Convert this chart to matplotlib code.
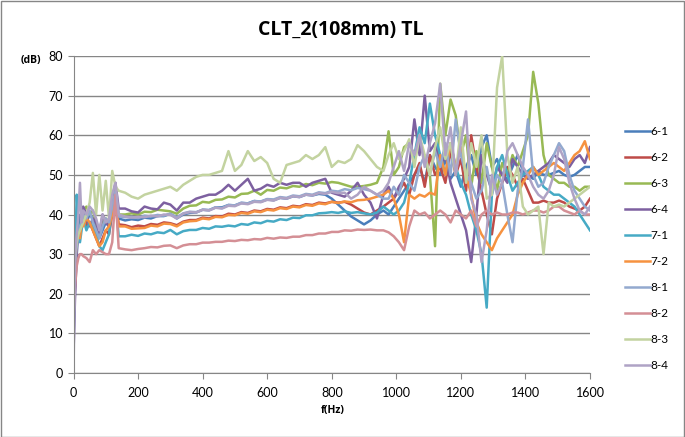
import matplotlib
matplotlib.use('Agg')
import matplotlib.pyplot as plt
from matplotlib.patches import Rectangle

plt.rcParams['font.family'] = ['Lato', 'DejaVu Sans']

freq = [0, 5, 10, 15, 20, 25, 30, 40, 50, 60, 70, 80, 90, 100, 110, 120, 130, 140,
        160, 180, 200, 220, 240, 260, 280, 300, 320, 340,
        360, 380, 400, 420, 440, 460, 480, 500, 520, 540,
        560, 580, 600, 620, 640, 660, 680, 700, 720, 740,
        760, 780, 800, 820, 840, 860, 880, 900, 920, 940, 960,
        976, 992, 1008, 1024, 1040, 1056, 1072, 1088, 1104, 1120,
        1136, 1152, 1168, 1184, 1200, 1216, 1232, 1248, 1264, 1280,
        1296, 1312, 1328, 1344, 1360, 1376, 1392, 1408, 1424, 1440,
        1456, 1472, 1488, 1504, 1520, 1536, 1552, 1568, 1584, 1600]

s6_1 = [8, 22, 30, 38, 35, 40, 41, 38, 40, 39, 37, 34, 36, 38, 37, 42, 45, 39,
        38.5, 38.8, 38.6, 39.2, 39, 39.6, 39.6, 40.2, 39, 40,
        40.4, 40.5, 41.2, 41.1, 41.8, 41.8, 42.4, 42.3, 42.9, 42.8,
        43.4, 43.2, 43.8, 43.6, 44.2, 44, 44.6, 44.4, 45, 44.8,
        45.2, 45, 44, 42.5, 41, 39.5, 38.5, 37.5, 38.5, 40, 41,
        40, 42, 44, 46, 48, 50, 52, 48, 55, 52,
        50, 54, 49, 51, 47, 52, 55, 50, 57, 60,
        52, 54, 50, 49, 52, 55, 51, 50, 49, 51,
        50, 50, 50.5, 51, 50, 49.5, 50, 51, 52, 52]

s6_2 = [12, 24, 32, 36, 38, 39, 40, 37, 38, 36, 34, 32, 34, 36, 35, 40, 44, 37.5,
        37.3, 36.8, 37.2, 37, 37.6, 37.4, 38, 37.8, 37.3, 38.2,
        38.6, 38.6, 39.2, 39, 39.6, 39.5, 40.2, 40, 40.6, 40.4,
        41, 40.8, 41.4, 41.2, 41.8, 41.6, 42.2, 42, 42.6, 42.4,
        43, 42.8, 43.2, 43, 43.2, 42.5, 41.5, 40.5, 40, 41, 42,
        43, 44, 46, 48, 45, 50, 53, 47, 55, 50,
        52, 48, 56, 50, 54, 46, 60, 52, 46, 40,
        35, 44, 48, 52, 50, 47, 49, 46, 43, 43,
        43.5, 43, 43, 43.5, 43, 42, 41.5, 41, 42, 44]

s6_3 = [15, 26, 33, 37, 36, 39, 41, 42, 40, 41, 38, 35, 38, 39, 38, 41, 46, 40,
        40, 40.3, 40, 40.7, 40.6, 41.2, 41, 40.8, 40.2, 41.5,
        42.2, 42.3, 43.2, 43, 43.7, 43.8, 44.5, 44.3, 45.2, 45.3,
        46, 45, 46.2, 46, 46.8, 46.6, 47.2, 47, 47.7, 47.4,
        48, 47.8, 48.2, 48, 47.5, 47, 47, 47.2, 47.5, 48, 52,
        61, 50, 52, 57, 58, 55, 58, 54, 50, 32,
        73, 60, 69, 65, 55, 60, 47, 56, 48, 58,
        52, 46, 53, 50, 55, 52, 56, 60, 76, 68,
        55, 50, 49, 48, 48, 47, 47, 46, 47, 47]

s6_4 = [5, 20, 30, 40, 38, 41, 42, 40, 37, 39, 38, 35, 40, 38, 37, 44, 48, 41.5,
        41.5, 40.8, 40.5, 42, 41.5, 41.3, 43, 42.5, 41, 43,
        43, 44, 44.5, 45, 45, 46, 47.5, 46, 47.5, 49,
        46, 46.5, 47.5, 47, 48, 47.5, 48, 48, 47, 48,
        48.5, 49, 45.5, 45, 44.5, 46, 48, 45, 43, 39, 45,
        47, 44, 47, 49, 52, 64, 55, 70, 56, 58,
        52, 55, 48, 44, 40, 36, 28, 40, 55, 50,
        46, 52, 50, 48, 54, 52, 50, 49, 50, 51,
        52, 53, 55, 54, 53, 52, 54, 55, 53, 57]

s7_1 = [10, 30, 45, 38, 33, 36, 39, 36, 38, 37, 35, 32, 31, 33, 35, 42, 44, 34.5,
        34.5, 34.9, 34.6, 35.2, 35, 35.5, 35.3, 36.1, 35, 35.8,
        36.1, 36.1, 36.6, 36.4, 37, 36.9, 37.2, 37, 37.6, 37.4,
        38, 37.8, 38.4, 38.2, 38.8, 38.6, 39.2, 39.1, 39.8, 39.8,
        40.3, 40.4, 40.6, 40.4, 40.8, 40.4, 40.6, 40.3, 40, 40.5, 42,
        41, 40, 41, 43, 48, 55, 62, 58, 68, 60,
        55, 50, 58, 52, 48, 45, 40, 36, 30, 16.5,
        45, 52, 55, 50, 46, 48, 50, 51, 52, 50,
        47, 46, 45, 45, 44, 43, 42, 40, 38, 36]

s7_2 = [18, 28, 33, 36, 34, 38, 37, 39, 38, 36, 34, 32, 33, 36, 37, 40, 43, 37,
        37, 36.4, 36.5, 36.6, 37.2, 37, 37.7, 37.6, 37, 38,
        38.3, 38.4, 39, 38.8, 39.4, 39.3, 39.9, 39.8, 40.4, 40.2,
        40.8, 40.6, 41.2, 41, 41.6, 41.4, 42, 41.8, 42.4, 42.2,
        42.8, 42.6, 43.2, 42.9, 43.3, 43.1, 43.6, 43.7, 44, 44.5, 45,
        46, 44, 40, 33, 45, 44, 45, 44.5, 45.5, 45,
        55, 50, 58, 52, 57, 50, 45, 38, 35, 33,
        31, 34, 36, 38, 40, 45, 48, 50, 52, 50,
        51, 52, 53, 52, 51, 53, 55, 56, 58.5, 54]

s8_1 = [20, 28, 32, 35, 37, 38, 40, 39, 41, 38, 36, 34, 37, 39, 38, 42, 46, 39.5,
        39.3, 39.4, 39.1, 39.7, 39.5, 39.9, 39.7, 40.2, 39.3, 40.3,
        40.7, 40.6, 41.2, 41.1, 41.8, 41.6, 42.4, 42.3, 43, 42.8,
        43.4, 43.3, 43.9, 43.8, 44.4, 44.2, 44.8, 44.6, 45.2, 45,
        45.6, 45.4, 46, 45.8, 46.4, 46.1, 46.7, 46.4, 46, 45, 44,
        44, 47, 45, 50, 48, 46, 52, 55, 50, 56,
        52, 58, 50, 64, 55, 50, 48, 44, 46, 52,
        45, 50, 48, 40, 33, 46, 52, 64, 50, 47,
        48, 52, 55, 58, 56, 50, 46, 44, 42, 41]

s8_2 = [14, 22, 27, 29, 30, 30, 29.5, 29, 28, 31, 30, 31, 30.5, 30, 30, 33, 45, 31.5,
        31.2, 31, 31.3, 31.5, 31.8, 31.7, 32.1, 32.2, 31.5, 32.2,
        32.5, 32.5, 32.9, 32.9, 33.1, 33.1, 33.4, 33.3, 33.6, 33.5,
        33.8, 33.7, 34.1, 33.9, 34.2, 34.1, 34.4, 34.4, 34.8, 34.8,
        35.2, 35.2, 35.6, 35.6, 36, 35.9, 36.2, 36.1, 36.2, 36, 36,
        35.5, 34.5, 33, 31, 37, 41, 40, 40.5, 39, 40,
        41, 40, 38, 41, 40, 39, 41, 37, 40, 41,
        40, 40.5, 40, 40, 40.5, 40.5, 40, 40.5, 41, 41,
        40.5, 41, 42, 42, 41, 40.5, 40, 41, 40, 40]

s8_3 = [22, 30, 33, 35, 36, 37, 38, 40, 43, 50.5, 40, 50, 41, 48.5, 39, 51, 47, 46,
        45.5, 44.5, 44, 45, 45.5, 46, 46.5, 47, 46, 47.5,
        48.5, 49.5, 50, 50, 50.5, 51, 56, 51, 52.5, 56,
        53.5, 54.5, 53, 49, 48, 52.5, 53, 53.5, 55, 54,
        55, 57, 52, 53.5, 53, 54, 57.5, 56, 54, 52, 51,
        55, 58, 54, 56, 59, 52, 60, 55, 50, 57,
        62, 54, 58, 50, 62, 48, 58, 52, 60, 44,
        45, 72, 80, 55, 48, 52, 42, 40, 41, 42,
        30, 43, 42, 42.5, 42, 43, 44, 45, 46, 47]

s8_4 = [0, 30, 35, 40, 48, 38, 41, 40, 42, 41, 39, 36, 40, 38, 39, 45, 48, 40,
        39.5, 39.2, 39.4, 39.3, 39.7, 39.5, 40, 39.9, 39, 40.2,
        40.6, 40.5, 41.2, 41, 41.7, 41.5, 42.2, 42.1, 42.8, 42.6,
        43.2, 43.1, 43.7, 43.5, 44.2, 44, 44.6, 44.4, 45, 44.8,
        45.4, 45.2, 45.7, 45.4, 45.5, 44, 45, 47, 46, 45, 46,
        48, 52, 56, 51, 58, 55, 60, 52, 58, 63,
        73, 55, 62, 50, 58, 66, 44, 40, 28, 36,
        50, 45, 48, 56, 58, 55, 52, 50, 47, 45,
        44, 46, 50, 57, 54, 48, 44, 41, 40, 42]

labels = ['6-1', '6-2', '6-3', '6-4', '7-1', '7-2', '8-1', '8-2', '8-3', '8-4']
series = [s6_1, s6_2, s6_3, s6_4, s7_1, s7_2, s8_1, s8_2, s8_3, s8_4]
colors = ['#4A7EBB', '#BE4B48', '#98B954', '#7D60A0', '#46AAC5', '#F69240',
          '#93A9CF', '#D48F95', '#C3D3A0', '#AFA3C5']
x_ticks = [0, 200, 400, 600, 800, 1000, 1200, 1400, 1600]
y_ticks = [0, 10, 20, 30, 40, 50, 60, 70, 80]

for s in series:
    assert len(s) == len(freq), len(s)

W, H = 685, 437
fig = plt.figure(figsize=(W / 100, H / 100), dpi=100)
ax = fig.add_axes([73.5 / W, 1 - 373 / H, (590 - 73.5) / W, (373 - 56) / H])

for s, c, lab in zip(series, colors, labels):
    ax.plot(freq, s, color=c, lw=1.8, label=lab, solid_joinstyle='round')

ax.set_xlim(0, 1600)
ax.set_ylim(0, 80)
ax.set_xticks(x_ticks)
ax.set_yticks(y_ticks)
ax.yaxis.grid(True, color='#868686', lw=1)
ax.set_axisbelow(True)
for sp in ['top', 'right']:
    ax.spines[sp].set_visible(False)
for sp in ['left', 'bottom']:
    ax.spines[sp].set_color('#868686')
ax.tick_params(axis='both', colors='#868686', labelcolor='black', labelsize=9,
               length=4, direction='out')
ax.tick_params(axis='x', pad=6)

bold = ['Open Sans', 'DejaVu Sans']
fig.text(341 / W, 1 - 30 / H, 'CLT_2(108mm) TL', ha='center', va='center',
         fontsize=14, fontweight='bold', family=bold)
fig.text(31 / W, 1 - 60 / H, '(dB)', ha='center', va='center', fontsize=7.5,
         fontweight='bold', family=bold)
fig.text(333 / W, 1 - 410 / H, 'f(Hz)', ha='center', va='center', fontsize=7.5,
         fontweight='bold', family=bold)

fig.legend(loc='upper left', bbox_to_anchor=(620 / W, 1 - 121 / H), frameon=False,
           fontsize=8.5, handlelength=2.1, handletextpad=0.1, labelspacing=1.27,
           borderaxespad=0)

fig.add_artist(Rectangle((0.5 / W, 0.5 / H), 1 - 1.5 / W, 1 - 1.5 / H,
                         transform=fig.transFigure, fill=False,
                         edgecolor='#868686', lw=1))

fig.savefig('out.png', dpi=100)
